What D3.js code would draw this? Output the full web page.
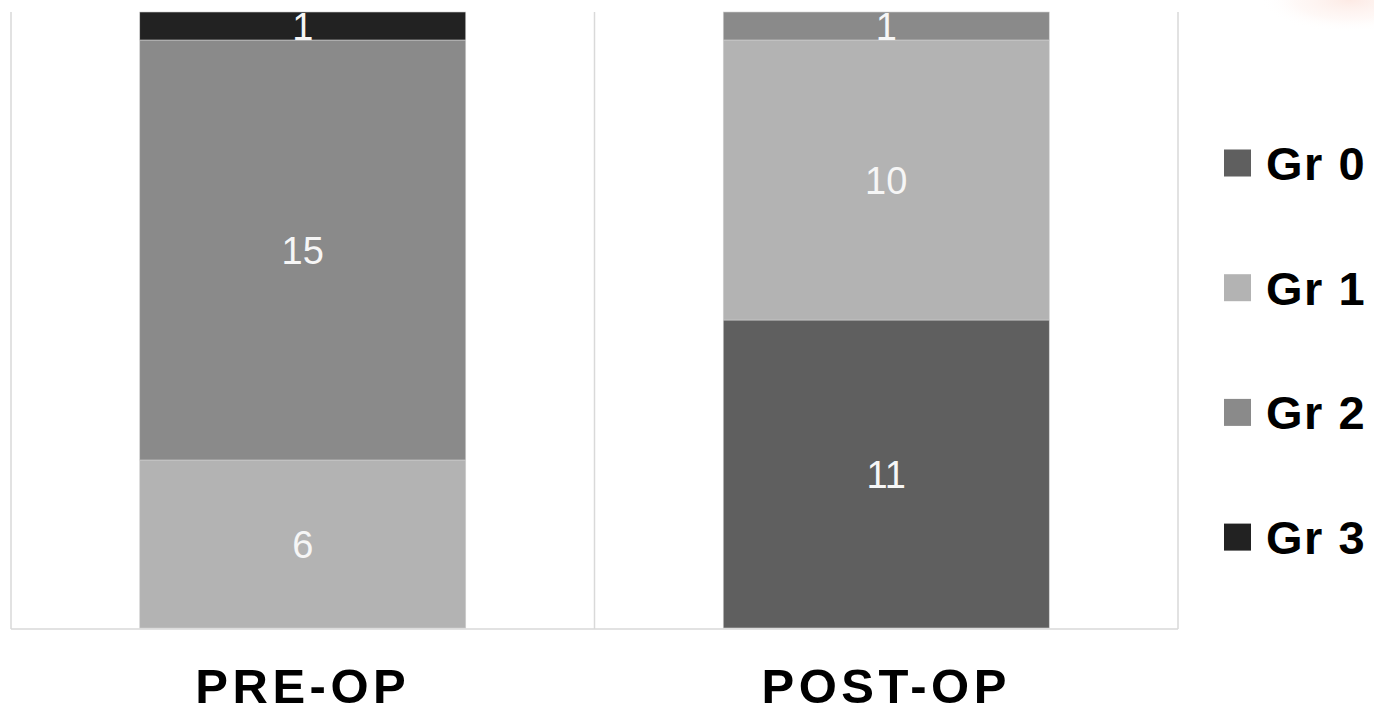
<!DOCTYPE html>
<html>
<head>
<meta charset="utf-8">
<script src="https://cdn.jsdelivr.net/npm/d3@7"></script>
<style>
	html, body { margin: 0; padding: 0; background: #fff; }
	svg { display: block; font-family: "Liberation Sans", Arial, sans-serif; }
</style>
</head>
<body>
<svg id="chart" width="1374" height="714"></svg>
<script>
// data
const categories = ["PRE-OP", "POST-OP"];
const grades = ["Gr 0", "Gr 1", "Gr 2", "Gr 3"];
const gr0 = [0, 11];
const gr1 = [6, 10];
const gr2 = [15, 1];
const gr3 = [1, 0];
const colors = ["#5f5f5f", "#b3b3b3", "#8a8a8a", "#222222"];

const series = [gr0, gr1, gr2, gr3];
const rows = categories.map((c, i) => {
	const r = { cat: c };
	grades.forEach((g, j) => (r[g] = series[j][i]));
	return r;
});

const svg = d3.select("#chart");
const plotLeft = 11, plotRight = 1178, plotTop = 12, plotBottom = 628;

const x = d3.scaleBand(categories, [plotLeft, plotRight]).padding(0);
const y = d3.scaleLinear([0, 22], [plotBottom, plotTop]);
const color = d3.scaleOrdinal(grades, colors);
const barW = 326;

// faint decoration at top right
const defs = svg.append("defs");
const rg = defs.append("radialGradient").attr("id", "blob");
rg.append("stop").attr("offset", "0%").attr("stop-color", "#fbd9cf").attr("stop-opacity", 0.55);
rg.append("stop").attr("offset", "60%").attr("stop-color", "#fde9e3").attr("stop-opacity", 0.3);
rg.append("stop").attr("offset", "100%").attr("stop-color", "#fff").attr("stop-opacity", 0);
svg.append("ellipse")
	.attr("cx", 1350).attr("cy", 0)
	.attr("rx", 90).attr("ry", 32)
	.attr("fill", "url(#blob)");

// category separators and baseline
const grid = svg.append("g").attr("stroke", "#d9d9d9").attr("stroke-width", 1.5);
[plotLeft, x("POST-OP"), plotRight].forEach((gx) => {
	grid.append("line")
		.attr("x1", gx).attr("x2", gx)
		.attr("y1", plotTop).attr("y2", plotBottom + 1);
});
grid.append("line")
	.attr("x1", plotLeft).attr("x2", plotRight)
	.attr("y1", plotBottom + 1).attr("y2", plotBottom + 1);

const stacked = d3.stack().keys(grades)(rows);

const layers = svg.append("g")
	.selectAll("g")
	.data(stacked)
	.join("g")
	.attr("fill", (d) => color(d.key));

layers.selectAll("rect")
	.data((d) => d.filter((p) => p[1] - p[0] > 0))
	.join("rect")
	.attr("x", (d) => x(d.data.cat) + (x.bandwidth() - barW) / 2)
	.attr("width", barW)
	.attr("y", (d) => y(d[1]))
	.attr("height", (d) => y(d[0]) - y(d[1]))
	.attr("stroke", "#cfcfcf")
	.attr("stroke-width", 0.6);

// value labels
const labels = svg.append("g")
	.attr("fill", "#f6f6f6")
	.attr("font-size", 38)
	.attr("text-anchor", "middle");
stacked.forEach((layer) => {
	layer.filter((p) => p[1] - p[0] > 0).forEach((p) => {
		labels.append("text")
			.attr("x", x(p.data.cat) + x.bandwidth() / 2)
			.attr("y", (y(p[0]) + y(p[1])) / 2)
			.attr("dy", "0.36em")
			.text(p[1] - p[0]);
	});
});

// category axis labels
svg.append("g")
	.selectAll("text")
	.data(categories)
	.join("text")
	.attr("x", (d) => x(d) + x.bandwidth() / 2)
	.attr("y", 703)
	.attr("text-anchor", "middle")
	.attr("font-size", 49)
	.attr("font-weight", "bold")
	.attr("letter-spacing", 4.5)
	.attr("fill", "#000")
	.text((d) => d);

// legend
const legend = svg.append("g")
	.selectAll("g")
	.data(grades)
	.join("g")
	.attr("transform", (d, i) => `translate(1224,${163 + i * 124.7})`);
legend.append("rect")
	.attr("y", -13.5)
	.attr("width", 27)
	.attr("height", 27)
	.attr("fill", (d) => color(d));
legend.append("text")
	.attr("x", 42)
	.attr("dy", "0.36em")
	.attr("font-size", 47)
	.attr("font-weight", "bold")
	.attr("letter-spacing", 1.5)
	.attr("fill", "#000")
	.text((d) => d);
</script>
</body>
</html>
